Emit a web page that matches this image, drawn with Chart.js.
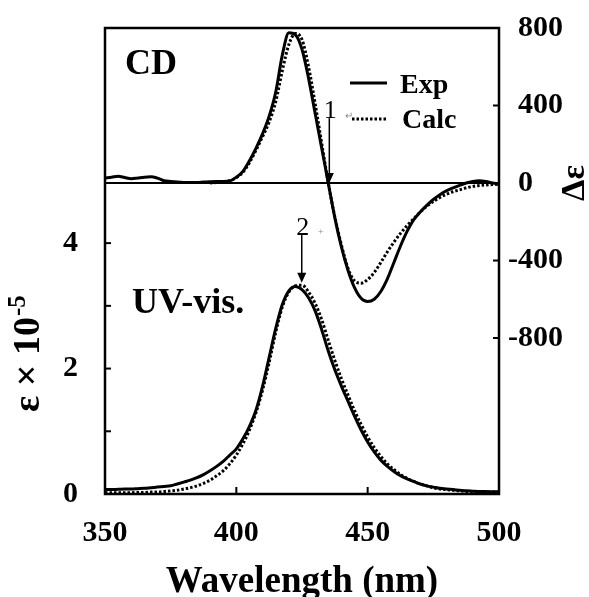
<!DOCTYPE html>
<html>
<head>
<meta charset="utf-8">
<script src="https://cdn.jsdelivr.net/npm/chart.js@4.4.0/dist/chart.umd.min.js"></script>
<style>
  html, body { margin: 0; padding: 0; background: #fff; }
  canvas { display: block; }
</style>
</head>
<body>
<canvas id="myChart" width="589" height="597"></canvas>
<script>
// wavelength grid (nm)
const wavelengths = [350, 352.5, 355, 357.5, 360, 362.5, 365, 367.5, 370, 372.5,
  375, 377.5, 380, 382.5, 385, 387.5, 390, 392.5, 395, 397.5,
  400, 402.5, 405, 407.5, 410, 412.5, 415, 417.5, 420, 422.5,
  425, 427.5, 430, 432.5, 435, 437.5, 440, 442.5, 445, 447.5,
  450, 452.5, 455, 457.5, 460, 462.5, 465, 467.5, 470, 472.5,
  475, 477.5, 480, 482.5, 485, 487.5, 490, 492.5, 495, 497.5, 500];

// CD, delta epsilon (right axis)
const cdExp = [26, 30, 35, 28, 22, 26, 30, 32, 25, 12,
  8, 5, 3, 2, 3, 5, 7, 8, 8, 10,
  30, 60, 115, 180, 255, 345, 470, 660, 775, 765,
  690, 540, 360, 180, 0, -180, -330, -450, -540, -595,
  -612, -600, -560, -495, -410, -325, -250, -190, -150, -115,
  -85, -60, -40, -25, -12, 0, 8, 12, 8, 0, -5];
const cdCalc = [null, null, null, null, null, null, null, null, null, null,
  null, null, null, null, null, null, 0, 2, 5, 12,
  28, 55, 105, 170, 240, 315, 420, 580, 715, 772,
  740, 600, 410, 205, 0, -175, -320, -440, -505, -517,
  -498, -462, -410, -355, -305, -260, -220, -185, -150, -120,
  -95, -75, -58, -45, -35, -25, -18, -13, -10, -8, -6];

// UV-vis, epsilon x 10^-5 (left axis)
const uvExp = [0.07, 0.07, 0.075, 0.08, 0.08, 0.085, 0.09, 0.10, 0.11, 0.12,
  0.13, 0.16, 0.19, 0.22, 0.26, 0.31, 0.37, 0.44, 0.52, 0.62,
  0.72, 0.88, 1.08, 1.34, 1.72, 2.18, 2.64, 3.02, 3.24, 3.31,
  3.26, 3.13, 2.92, 2.62, 2.28, 1.98, 1.72, 1.48, 1.24, 1.02,
  0.83, 0.67, 0.54, 0.44, 0.36, 0.29, 0.24, 0.20, 0.16, 0.13,
  0.11, 0.09, 0.08, 0.07, 0.06, 0.05, 0.045, 0.04, 0.04, 0.035, 0.035];
const uvCalc = [0.02, 0.02, 0.02, 0.02, 0.02, 0.025, 0.025, 0.03, 0.03, 0.04,
  0.05, 0.06, 0.08, 0.10, 0.13, 0.17, 0.22, 0.29, 0.37, 0.48,
  0.62, 0.80, 1.02, 1.30, 1.66, 2.10, 2.58, 2.98, 3.22, 3.32,
  3.33, 3.22, 3.04, 2.78, 2.45, 2.13, 1.84, 1.58, 1.33, 1.11,
  0.91, 0.74, 0.60, 0.48, 0.39, 0.31, 0.25, 0.20, 0.16, 0.13,
  0.10, 0.08, 0.07, 0.06, 0.05, 0.04, 0.035, 0.03, 0.03, 0.03, 0.03];

// tick labels
const xTicks = [350, 400, 450, 500];
const leftTicks = [0, 2, 4];
const leftMinor = [1, 2, 3, 4];
const rightTicks = [-800, -400, 0, 400, 800];

// arrows marking the two bands: label, wavelength, top value, tip value, axis
const arrowLabels = ['1', '2'];
const arrowX = [435.4, 424.9];
const arrowTop = [335, 4.13];
const arrowTip = [0, 3.37];
const arrowAxis = ['yR', 'yL'];

const serif = "'Liberation Serif', 'Times New Roman', serif";
Chart.defaults.font.family = serif;
Chart.defaults.color = '#000';

function pts(arr) {
  return wavelengths.map((w, i) => ({ x: w, y: arr[i] }));
}

function line(ctx, x1, y1, x2, y2) {
  ctx.beginPath();
  ctx.moveTo(x1, y1);
  ctx.lineTo(x2, y2);
  ctx.stroke();
}

const overlay = {
  id: 'overlay',
  afterDraw(chart) {
    const { ctx, chartArea: a, scales } = chart;
    const x = scales.x, yL = scales.yL, yR = scales.yR;
    ctx.save();
    ctx.strokeStyle = '#000';
    ctx.fillStyle = '#000';

    // frame and CD zero line
    ctx.lineWidth = 2.5;
    ctx.strokeRect(a.left, a.top, a.right - a.left, a.bottom - a.top);
    ctx.lineWidth = 2;
    const y0 = yR.getPixelForValue(0);
    line(ctx, a.left, y0, a.right, y0);

    // inward ticks
    ctx.lineWidth = 2;
    leftMinor.forEach(v => { const py = yL.getPixelForValue(v); line(ctx, a.left, py, a.left + 6, py); });
    [400, -400, -800].forEach(v => { const py = yR.getPixelForValue(v); line(ctx, a.right, py, a.right - 6, py); });
    [400, 450].forEach(v => { const px = x.getPixelForValue(v); line(ctx, px, a.bottom, px, a.bottom - 7); });

    // right tick labels: digits aligned, minus sign hanging to the left
    ctx.font = 'bold 30px ' + serif;
    ctx.textBaseline = 'middle';
    rightTicks.forEach(v => {
      const py = yR.getPixelForValue(v);
      ctx.textAlign = 'left';
      ctx.fillText(String(Math.abs(v)), a.right + 19, py);
      if (v < 0) {
        ctx.textAlign = 'right';
        ctx.fillText('-', a.right + 19, py);
      }
    });

    // panel labels
    ctx.textAlign = 'left';
    ctx.textBaseline = 'alphabetic';
    ctx.font = 'bold 36px ' + serif;
    ctx.fillText('CD', 125, 74);
    ctx.fillText('UV-vis.', 132, 313);

    // legend
    ctx.font = 'bold 28px ' + serif;
    ctx.lineWidth = 3;
    line(ctx, 350, 83, 387, 83);
    ctx.fillText('Exp', 400, 93);
    ctx.setLineDash([2.5, 2]);
    line(ctx, 352, 119, 386, 119);
    ctx.setLineDash([]);
    ctx.fillText('Calc', 402, 128);
    ctx.fillStyle = '#888';
    ctx.font = '10px ' + serif;
    ctx.fillText('\u21B5', 345, 119);
    ctx.fillText('+', 318, 235);
    ctx.fillStyle = '#000';

    // arrows
    ctx.lineWidth = 1.5;
    arrowLabels.forEach((lab, i) => {
      const sc = scales[arrowAxis[i]];
      const px = x.getPixelForValue(arrowX[i]);
      const pTop = sc.getPixelForValue(arrowTop[i]);
      const pTip = sc.getPixelForValue(arrowTip[i]);
      line(ctx, px, pTop, px, pTip - 8);
      ctx.beginPath();
      ctx.moveTo(px - 4.5, pTip - 10);
      ctx.lineTo(px + 4.5, pTip - 10);
      ctx.lineTo(px, pTip);
      ctx.closePath();
      ctx.fill();
      ctx.font = '26px ' + serif;
      ctx.textAlign = 'center';
      ctx.fillText(lab, px + 1, pTop);
    });

    // axis titles
    ctx.font = 'bold 37px ' + serif;
    ctx.textAlign = 'center';
    ctx.textBaseline = 'alphabetic';
    ctx.fillText('Wavelength (nm)', 302, 592);

    ctx.save();
    ctx.translate(575, 183);
    ctx.rotate(-Math.PI / 2);
    ctx.font = 'bold 34px ' + serif;
    ctx.textBaseline = 'middle';
    ctx.fillText('\u0394\u03B5', 0, 0);
    ctx.restore();

    ctx.save();
    ctx.translate(29, 412);
    ctx.rotate(-Math.PI / 2);
    ctx.textAlign = 'left';
    ctx.textBaseline = 'middle';
    ctx.font = 'bold 38px ' + serif;
    const main = '\u03B5 \u00D7 10';
    ctx.fillText(main, 0, 0);
    const w = ctx.measureText(main).width;
    ctx.font = 'bold 25px ' + serif;
    ctx.fillText('-5', w + 1, -10);
    ctx.restore();

    ctx.restore();
  }
};

const tickFont = { size: 30, weight: 'bold' };

new Chart(document.getElementById('myChart'), {
  type: 'line',
  data: {
    datasets: [
      { label: 'Exp', data: pts(cdExp), yAxisID: 'yR', borderColor: '#000', borderWidth: 3,
        pointRadius: 0, cubicInterpolationMode: 'monotone', fill: false },
      { label: 'Calc', data: pts(cdCalc), yAxisID: 'yR', borderColor: '#000', borderWidth: 3,
        borderDash: [2.5, 2], pointRadius: 0, cubicInterpolationMode: 'monotone', fill: false },
      { label: 'Exp', data: pts(uvExp), yAxisID: 'yL', borderColor: '#000', borderWidth: 3,
        pointRadius: 0, cubicInterpolationMode: 'monotone', fill: false },
      { label: 'Calc', data: pts(uvCalc), yAxisID: 'yL', borderColor: '#000', borderWidth: 3,
        borderDash: [2.5, 2], pointRadius: 0, cubicInterpolationMode: 'monotone', fill: false }
    ]
  },
  options: {
    responsive: false,
    animation: false,
    events: [],
    layout: { padding: { top: 28 } },
    plugins: { legend: { display: false }, tooltip: { enabled: false } },
    scales: {
      x: {
        type: 'linear', min: 350, max: 500,
        afterFit: s => { s.height = 103; s.paddingLeft = 0; s.paddingRight = 0; },
        afterBuildTicks: s => { s.ticks = xTicks.map(v => ({ value: v })); },
        ticks: { font: tickFont, color: '#000', padding: 13, maxRotation: 0, autoSkip: false },
        grid: { display: false }, border: { display: false }
      },
      yL: {
        type: 'linear', position: 'left', min: 0, max: 7.43,
        afterFit: s => { s.width = 105; s.paddingTop = 0; s.paddingBottom = 0; },
        afterBuildTicks: s => { s.ticks = leftTicks.map(v => ({ value: v })); },
        ticks: { font: tickFont, color: '#000', padding: 19 },
        grid: { display: false }, border: { display: false }
      },
      yR: {
        type: 'linear', position: 'right', min: -1605, max: 800,
        afterFit: s => { s.width = 90; s.paddingTop = 0; s.paddingBottom = 0; },
        afterBuildTicks: s => { s.ticks = rightTicks.map(v => ({ value: v })); },
        ticks: { display: false },
        grid: { display: false }, border: { display: false }
      }
    }
  },
  plugins: [overlay]
});
</script>
</body>
</html>
